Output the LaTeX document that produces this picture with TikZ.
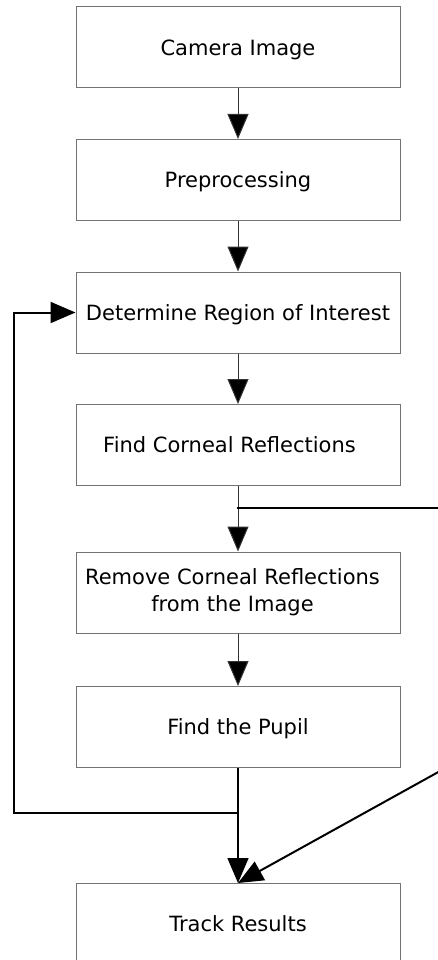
\documentclass[tikz,border=0pt]{standalone}
\usepackage{fontspec}
\setmainfont{DejaVu Sans}
\usetikzlibrary{arrows.meta,positioning}
\definecolor{boxgray}{gray}{0.45}
\definecolor{flowgray}{gray}{0.2}

\begin{document}
\begin{tikzpicture}[>={Triangle[length=25pt,width=21pt]},node distance=132.5pt,on grid,
	stepbox/.style={draw=boxgray,line width=1pt,minimum width=324pt,minimum height=81pt,
		inner sep=0pt,font=\fontsize{21}{26}\selectfont,text height=15.3pt,text depth=0pt},
	flow/.style={->,draw=flowgray,line width=1pt},
	loopline/.style={line width=2pt,line cap=rect}]
	\useasboundingbox (0,0) rectangle (438pt,-960pt);
	\clip (0,0) rectangle (438pt,-960pt);

	\node[stepbox] (cam_img) at (238pt,-47.5pt) {Camera Image};
	\node[stepbox] (preproc) [below=of cam_img] {Preprocessing};
	\node[stepbox] (roi) [below=of preproc] {Determine Region of Interest};
	\node[stepbox] (find_cr) [below=of roi] {Find Corneal Reflections\hspace*{17pt}};
	\node[stepbox,align=center,text height={},text depth={}] (rm_cr) [below=147.5pt of find_cr]
		{Remove Corneal Reflections\hspace*{11pt}\\[1pt]from the Image\hspace*{11pt}};
	\node[stepbox] (find_pupil) [below=134.5pt of rm_cr] {Find the Pupil};
	\node[stepbox] (track) [below=197pt of find_pupil] {Track Results};

	% junctions and the ends that run off the page
	\coordinate (cr_join) at ([yshift=-22pt]find_cr.south);
	\coordinate (cr_out) at ([xshift=240pt]cr_join);
	\coordinate (pupil_join) at ([yshift=-45pt]find_pupil.south);
	\coordinate (diag_in) at ([xshift=222pt,yshift=123pt]track.north);

	\path[flow]
		(cam_img) edge (preproc)
		(preproc) edge (roi)
		(roi) edge (find_cr)
		(find_cr) edge (rm_cr)
		(rm_cr) edge (find_pupil);
	\draw[flow,draw=black,line width=1.5pt] (find_pupil) -- (track);

	\draw[loopline,->] (pupil_join) -| ([xshift=-62pt]roi.west) -- (roi.west);
	\draw[loopline] (cr_join) -- (cr_out);
	\draw[loopline,->] (diag_in) -- (track.north);
\end{tikzpicture}
\end{document}
